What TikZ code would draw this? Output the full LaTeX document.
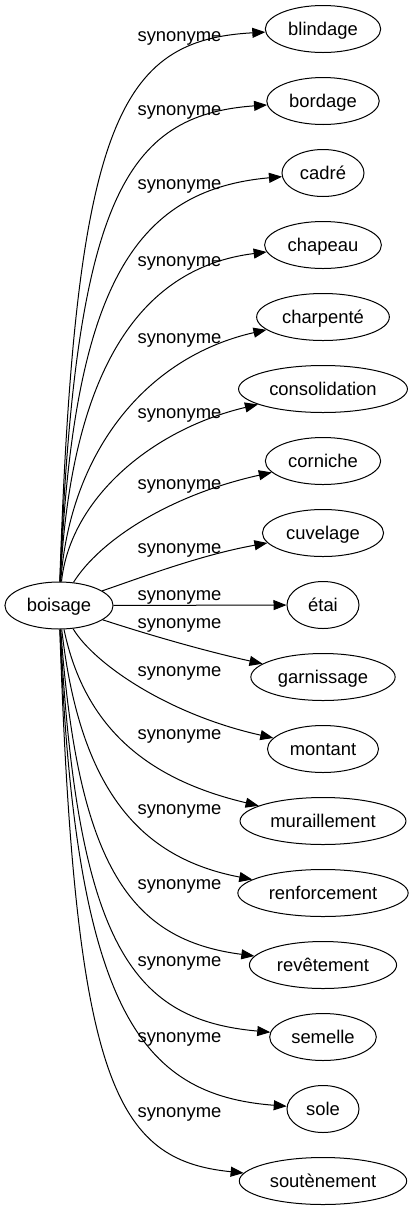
\documentclass[tikz,border=0pt]{standalone}
\usepackage{fontspec}
\setmainfont{Liberation Sans}
\usetikzlibrary{arrows.meta,shapes.geometric}

\tikzset{
  mot/.style={draw,ellipse,line width=1pt,inner xsep=6pt,inner ysep=2pt,
    minimum width=72pt,minimum height=47pt,text height=15pt,text depth=3pt,
    font=\fontsize{18.4}{22}\selectfont},
  lien/.style={line width=1pt,-{Triangle[length=13pt,width=10pt]}},
  etiq/.style={anchor=base,inner sep=0pt,font=\fontsize{18.4}{22}\selectfont}
}

\begin{document}
\begin{tikzpicture}[x=1pt,y=-1pt]
\useasboundingbox (0,0) rectangle (413,1211);

\node[mot] (boisage) at (59,605.5) {boisage};

% synonymes, one per rank
\foreach \n/\w [count=\i from 0] in {blindage/blindage,bordage/bordage,cadre/cadré,
    chapeau/chapeau,charpente/charpenté,consolidation/consolidation,corniche/corniche,
    cuvelage/cuvelage,etai/étai,garnissage/garnissage,montant/montant,
    muraillement/muraillement,renforcement/renforcement,revetement/revêtement,
    semelle/semelle,sole/sole,soutenement/soutènement} {
  \node[mot] (\n) at (323,29+72*\i) {\w};
}

\draw[lien] (boisage) -- (etai) node[etiq] at (179.5,600.7) {synonyme};

\foreach \n/\ax/\ay/\bx/\by/\ly in {blindage/75/120/120/40/35,bordage/75/200/125/115/109,
    cadre/73/290/132/190/183,chapeau/71/375/137/268/260,charpente/70/452/146/357/337,
    consolidation/70/500/150/430/412,corniche/100/540/170/495/483,cuvelage/140/578/200/555/547,
    garnissage/140/632/200/650/622,montant/95/665/170/715/670,muraillement/85/730/150/780/733,
    renforcement/80/790/140/858/808,revetement/78/870/132/940/883,semelle/77/950/135/1020/960,
    sole/75/1010/140/1095/1036,soutenement/75/1083/115/1160/1111} {
  \draw[lien] (boisage) .. controls (\ax,\ay) and (\bx,\by) .. (\n)
    node[etiq] at (179.5,\ly+6.7) {synonyme};
}
\end{tikzpicture}
\end{document}
